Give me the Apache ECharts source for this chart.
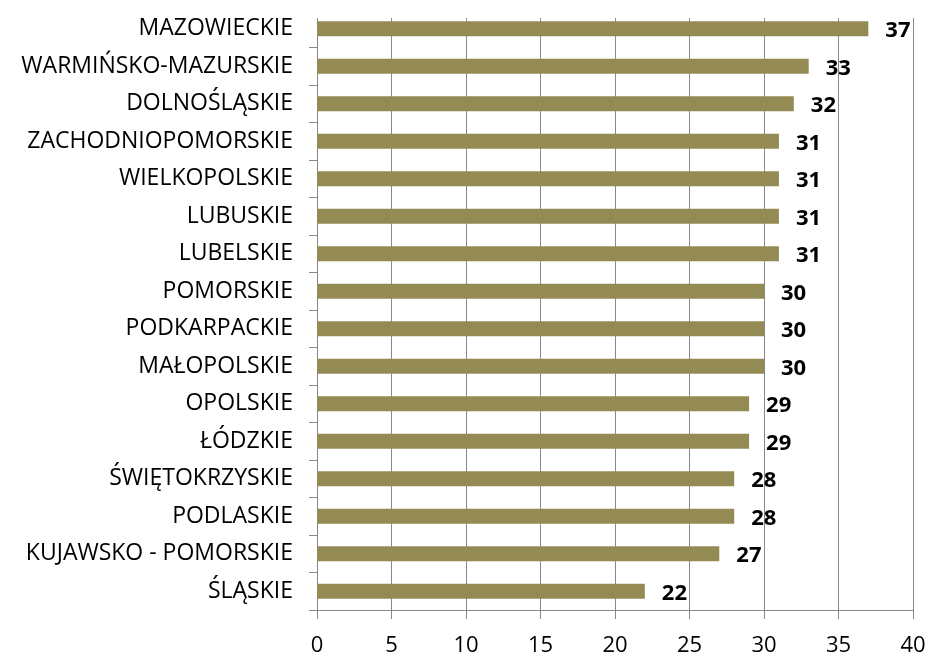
<!DOCTYPE html>
<html>
<head>
<meta charset="utf-8">
<script src="https://cdn.jsdelivr.net/npm/echarts@6/dist/echarts.min.js"></script>
<style>
  html, body { margin: 0; padding: 0; background: #fff; }
  #chart { width: 930px; height: 655px; }
</style>
</head>
<body>
<div id="chart"></div>
<script>
const regions = [
  'MAZOWIECKIE', 'WARMIŃSKO-MAZURSKIE', 'DOLNOŚLĄSKIE', 'ZACHODNIOPOMORSKIE',
  'WIELKOPOLSKIE', 'LUBUSKIE', 'LUBELSKIE', 'POMORSKIE', 'PODKARPACKIE',
  'MAŁOPOLSKIE', 'OPOLSKIE', 'ŁÓDZKIE', 'ŚWIĘTOKRZYSKIE', 'PODLASKIE',
  'KUJAWSKO - POMORSKIE', 'ŚLĄSKIE'
]
const values = [37, 33, 32, 31, 31, 31, 31, 30, 30, 30, 29, 29, 28, 28, 27, 22]

const chart = echarts.init(document.getElementById('chart'), null, { renderer: 'canvas' })

const font = 'Open Sans, Calibri, sans-serif'

chart.setOption({
  animation: false,
  grid: { left: 317, right: 17, top: 10, bottom: 45, outerBoundsMode: 'none' },
  // plot lines in the original begin a little below the first category slot
  graphic: [
    { type: 'rect', left: 300, top: 0, z: 100, shape: { width: 620, height: 18 }, style: { fill: '#fff' } },
  ],
  xAxis: {
    type: 'value',
    min: 0,
    max: 40,
    interval: 5,
    axisLine: { show: true, lineStyle: { color: '#888', width: 1 } },
    axisTick: { show: true, length: 9, lineStyle: { color: '#888' } },
    axisLabel: { color: '#000', fontSize: 22, fontFamily: font, margin: 25 },
    splitLine: { show: true, lineStyle: { color: '#888', width: 1 } },
  },
  yAxis: {
    type: 'category',
    inverse: true,
    data: regions,
    axisLine: { show: true, lineStyle: { color: '#888', width: 1 } },
    axisTick: { show: true, length: 8, lineStyle: { color: '#888' } },
    axisLabel: { color: '#000', fontSize: 23, fontFamily: font, margin: 24 },
  },
  series: [
    {
      type: 'bar',
      data: values,
      barWidth: 15,
      itemStyle: { color: '#948A54' },
      label: {
        show: true,
        position: 'right',
        distance: 17,
        offset: [0, 2],
        color: '#000',
        fontWeight: 'bold',
        fontSize: 22,
        fontFamily: font,
      },
    },
  ],
})
</script>
</body>
</html>
